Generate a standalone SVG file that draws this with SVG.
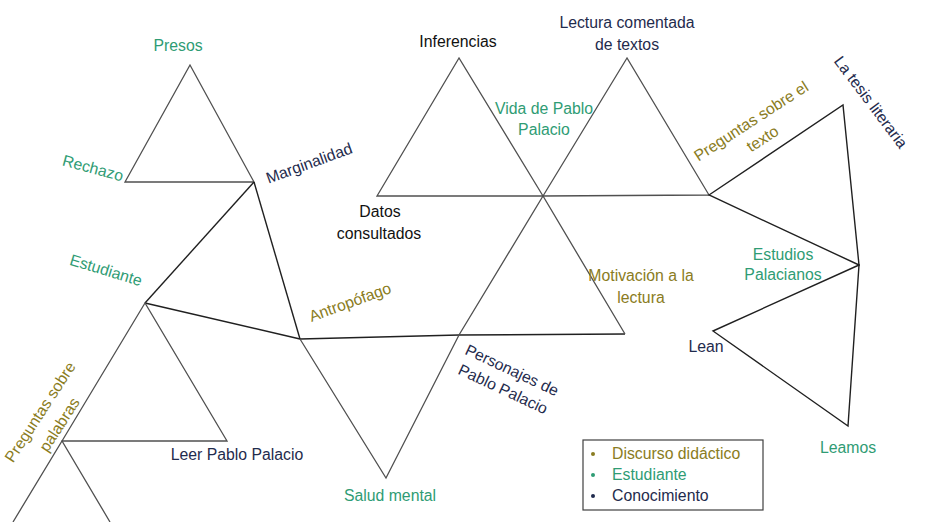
<svg xmlns="http://www.w3.org/2000/svg" width="927" height="522" viewBox="0 0 927 522">
<style>
text{font-family:"Liberation Sans",Arial,sans-serif;font-size:15.8px;text-anchor:middle}
.g{fill:#2f9c74}.o{fill:#8a7c22}.n{fill:#1f2b4d}.k{fill:#111}
.tri{fill:none;stroke:#505050;stroke-width:1.3;stroke-linejoin:miter}
.ln{fill:none;stroke:#202020;stroke-width:1.4}
.lg{text-anchor:start}
</style>
<rect width="927" height="522" fill="#fff"/>
<g id="connectors">
<polygon class="tri" points="190,65 125,182 254,182"/>
<polyline class="ln" points="254,182 145,303"/>
<polyline class="ln" points="254,182 300,339"/>
<polyline class="ln" points="145,303 300,339"/>
<polygon class="tri" points="145,303 62,441 227,441"/>
<polyline class="tri" points="13,522 62,441 110,522"/>
<polyline class="ln" points="300,339 459,335 625,334"/>
<polyline class="tri" points="300,339 386,478 459,335 543,196 625,334"/>
<polygon class="tri" points="459,58 377,196 543,196"/>
<polygon class="tri" points="627,58 543,196 709,195"/>
<polygon class="ln" points="709,195 843,105 859,265"/>
<polygon class="ln" points="859,265 713,331 848,426"/>
</g>
<g id="presos"><text class="g" x="178" y="51">Presos</text></g>
<g id="rechazo"><text class="g" transform="translate(93,168) rotate(15)" dy="0.35em">Rechazo</text></g>
<g id="marginalidad"><text class="n" transform="translate(309,163) rotate(-20)" dy="0.35em">Marginalidad</text></g>
<g id="estudiante"><text class="g" transform="translate(106,270) rotate(17)" dy="0.35em">Estudiante</text></g>
<g id="antropofago"><text class="o" transform="translate(350,302) rotate(-20)" dy="0.35em">Antropófago</text></g>
<g id="inferencias"><text class="k" x="458" y="47">Inferencias</text></g>
<g id="lectura"><text class="n" x="627" y="28">Lectura comentada</text><text class="n" x="627" y="50">de textos</text></g>
<g id="vida"><text class="g" x="544" y="114">Vida de Pablo</text><text class="g" x="544" y="135">Palacio</text></g>
<g id="datos"><text class="k" x="380" y="217">Datos</text><text class="k" x="379" y="239">consultados</text></g>
<g id="preguntas-texto"><g transform="translate(751,121) rotate(-33)"><text class="o" dy="0.35em">Preguntas sobre el</text><text class="o" y="21" dy="0.35em">texto</text></g></g>
<g id="tesis"><text class="n" transform="translate(871,102) rotate(53)" dy="0.35em">La tesis literaria</text></g>
<g id="motivacion"><text class="o" x="641" y="281">Motivación a la</text><text class="o" x="641" y="303">lectura</text></g>
<g id="estudios"><text class="g" x="783" y="260">Estudios</text><text class="g" x="783" y="280">Palacianos</text></g>
<g id="lean"><text class="n" x="706" y="352">Lean</text></g>
<g id="leamos"><text class="g" x="848" y="453">Leamos</text></g>
<g id="personajes"><g transform="translate(512,370) rotate(25)"><text class="n" dy="0.35em">Personajes de</text><text class="n" y="21" dy="0.35em">Pablo Palacio</text></g></g>
<g id="salud"><text class="g" x="390" y="501">Salud mental</text></g>
<g id="leer"><text class="n" x="237" y="460">Leer Pablo Palacio</text></g>
<g id="preguntas-palabras"><g transform="translate(40,412) rotate(-57)"><text class="o" dy="0.35em">Preguntas sobre</text><text class="o" y="23" dy="0.35em">palabras</text></g></g>
<g id="legend">
<rect x="583" y="440" width="180" height="70" fill="#fff" stroke="#404040" stroke-width="1.2"/>
<circle cx="593" cy="454" r="2" fill="#8a7c22"/>
<circle cx="593" cy="475" r="2" fill="#2f9c74"/>
<circle cx="593" cy="496" r="2" fill="#1f2b4d"/>
<text class="o lg" x="612" y="459">Discurso didáctico</text>
<text class="g lg" x="612" y="480">Estudiante</text>
<text class="n lg" x="612" y="501">Conocimiento</text>
</g>
</svg>
